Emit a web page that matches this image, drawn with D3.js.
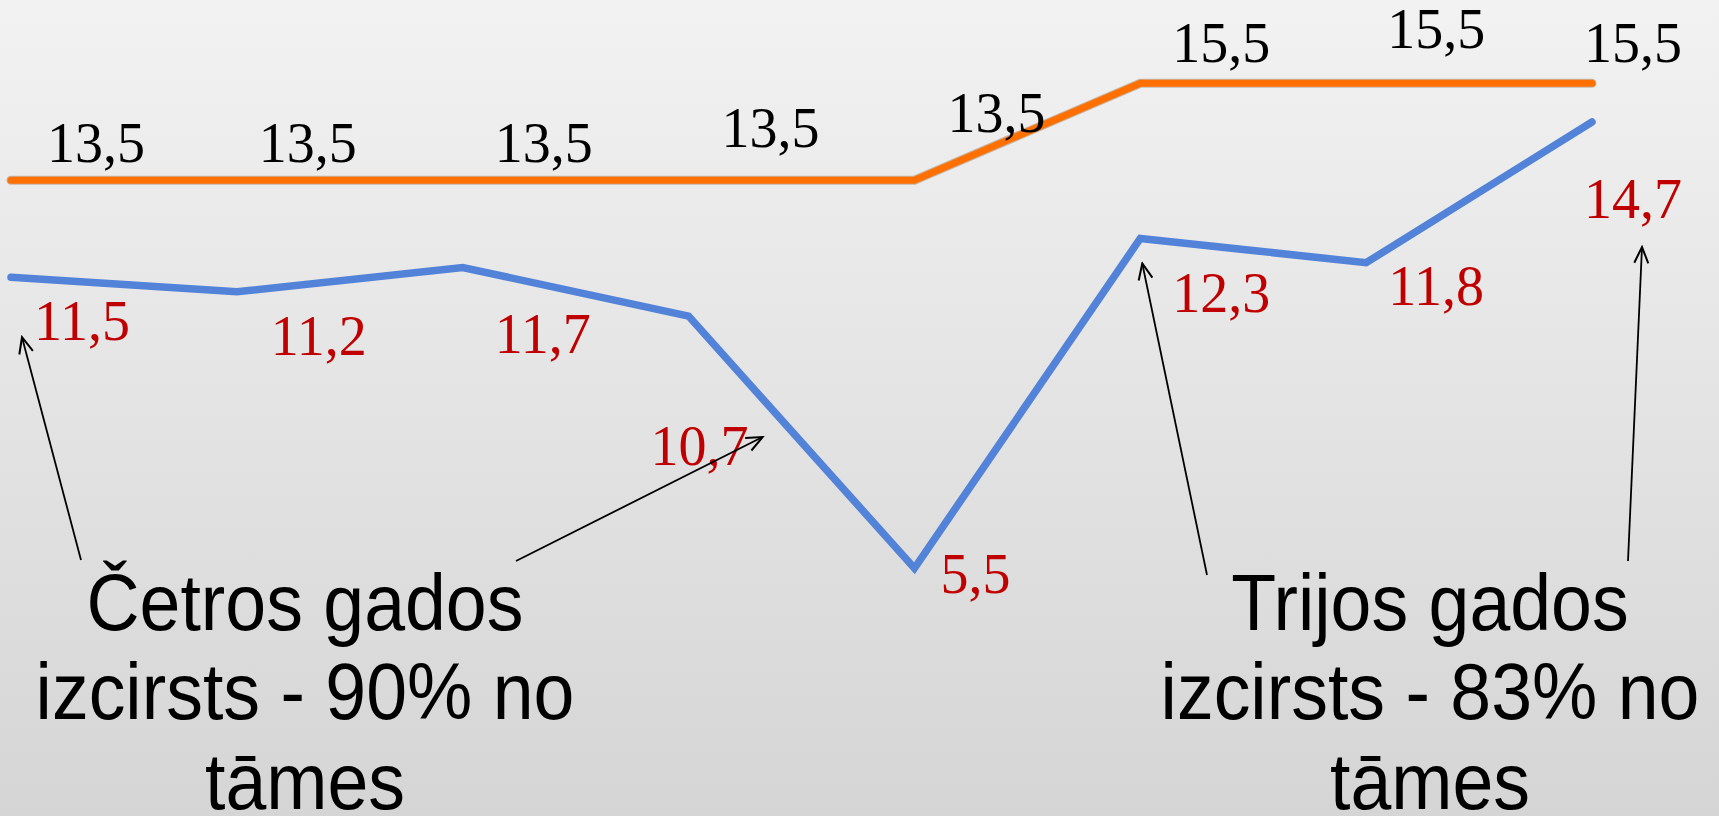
<!DOCTYPE html>
<html>
<head>
<meta charset="utf-8">
<script src="https://cdn.jsdelivr.net/npm/d3@7"></script>
<style>
  body { margin: 0; overflow: hidden; }
  svg { display: block; }
</style>
</head>
<body>
<div id="chart"></div>
<script>
var width = 1719, height = 816;

// data
var periods = [1, 2, 3, 4, 5, 6, 7, 8];
var planned = [13.5, 13.5, 13.5, 13.5, 13.5, 15.5, 15.5, 15.5];
var actual = [11.5, 11.2, 11.7, 10.7, 5.5, 12.3, 11.8, 14.7];
var plannedLabels = ["13,5", "13,5", "13,5", "13,5", "13,5", "15,5", "15,5", "15,5"];
var actualLabels = ["11,5", "11,2", "11,7", "10,7", "5,5", "12,3", "11,8", "14,7"];

// label offsets from the point (left edge, baseline)
var plannedLabelPos = [[36, -18], [22, -18], [32, -18], [33, -33], [33, -48], [32, -21], [21, -35], [-8, -21]];
var actualLabelPos = [[23, 63], [34, 63], [32, 85], [-38, 149], [26, 25], [32, 74], [22, 42], [-8, 96]];

var notes = [
  {lines: ["Četros gados", "izcirsts - 90% no", "tāmes"], cx: 305,
   arrows: [{idx: 0, tip: [11, 60], tail: [-224, -70]},
            {idx: 3, tip: [74, 121], tail: [211, -69]}]},
  {lines: ["Trijos gados", "izcirsts - 83% no", "tāmes"], cx: 1430,
   arrows: [{idx: 5, tip: [2, 25], tail: [-223, -55]},
            {idx: 7, tip: [50, 125], tail: [198, -69]}]}
];

var svg = d3.select("#chart").append("svg")
  .attr("width", width)
  .attr("height", height);

var defs = svg.append("defs");
var grad = defs.append("linearGradient")
  .attr("id", "bg")
  .attr("x1", 0).attr("y1", 0).attr("x2", 0).attr("y2", 1);
grad.append("stop").attr("offset", "0%").attr("stop-color", "#f2f2f2");
grad.append("stop").attr("offset", "100%").attr("stop-color", "#d5d5d5");

defs.append("marker")
  .attr("id", "head")
  .attr("markerUnits", "userSpaceOnUse")
  .attr("viewBox", "-18 -10 20 20")
  .attr("refX", 0).attr("refY", 0)
  .attr("markerWidth", 20).attr("markerHeight", 20)
  .attr("orient", "auto")
  .append("path")
    .attr("d", "M-16,-7L0,0L-16,7")
    .attr("fill", "none")
    .attr("stroke", "#000")
    .attr("stroke-width", 2);

svg.append("rect")
  .attr("width", width).attr("height", height)
  .attr("fill", "url(#bg)");

var x = d3.scalePoint()
  .domain(periods)
  .range([11, 1592]);

var y = d3.scaleLinear()
  .domain([0, 16])
  .range([835, 59]);

var line = d3.line()
  .x(function(d, i){ return x(periods[i]); })
  .y(function(d){ return y(d); });

// orange: planned
svg.append("path")
  .datum(planned)
  .attr("d", line)
  .attr("fill", "none")
  .attr("stroke", "rgba(120,80,40,0.35)")
  .attr("stroke-width", 9)
  .attr("stroke-linecap", "round");
svg.append("path")
  .datum(planned)
  .attr("d", line)
  .attr("fill", "none")
  .attr("stroke", "#ff7000")
  .attr("stroke-width", 7)
  .attr("stroke-linecap", "round");

// blue: actual
svg.append("path")
  .datum(actual)
  .attr("d", line)
  .attr("fill", "none")
  .attr("stroke", "#5283d8")
  .attr("stroke-width", 7.5)
  .attr("stroke-linecap", "round");

svg.selectAll("text.planned")
  .data(planned).enter()
  .append("text")
    .attr("class", "planned")
    .attr("x", function(d, i){ return x(periods[i]) + plannedLabelPos[i][0]; })
    .attr("y", function(d, i){ return y(d) + plannedLabelPos[i][1]; })
    .attr("font-family", "'Liberation Serif', 'DejaVu Serif', serif")
    .attr("font-size", 56)
    .attr("fill", "#000")
    .text(function(d, i){ return plannedLabels[i]; });

svg.selectAll("text.actual")
  .data(actual).enter()
  .append("text")
    .attr("class", "actual")
    .attr("x", function(d, i){ return x(periods[i]) + actualLabelPos[i][0]; })
    .attr("y", function(d, i){ return y(d) + actualLabelPos[i][1]; })
    .attr("font-family", "'Liberation Serif', 'DejaVu Serif', serif")
    .attr("font-size", 56)
    .attr("fill", "#c00000")
    .text(function(d, i){ return actualLabels[i]; });

// annotations
var firstBase = 630, lineGap = 89.5;
notes.forEach(function(n){
  n.arrows.forEach(function(a){
    var px = x(periods[a.idx]), py = y(actual[a.idx]);
    svg.append("line")
      .attr("x1", n.cx + a.tail[0]).attr("y1", firstBase + a.tail[1])
      .attr("x2", px + a.tip[0]).attr("y2", py + a.tip[1])
      .attr("stroke", "#000")
      .attr("stroke-width", 1.8)
      .attr("marker-end", "url(#head)");
  });
  var g = svg.append("g")
    .attr("transform", "translate(" + n.cx + ",0) scale(0.93,1)");
  g.selectAll("text")
    .data(n.lines).enter()
    .append("text")
      .attr("x", 0)
      .attr("y", function(d, i){ return firstBase + i * lineGap; })
      .attr("text-anchor", "middle")
      .attr("font-family", "'Liberation Sans', Arial, sans-serif")
      .attr("font-size", 79)
      .attr("fill", "#000")
      .text(function(d){ return d; });
});
</script>
</body>
</html>
